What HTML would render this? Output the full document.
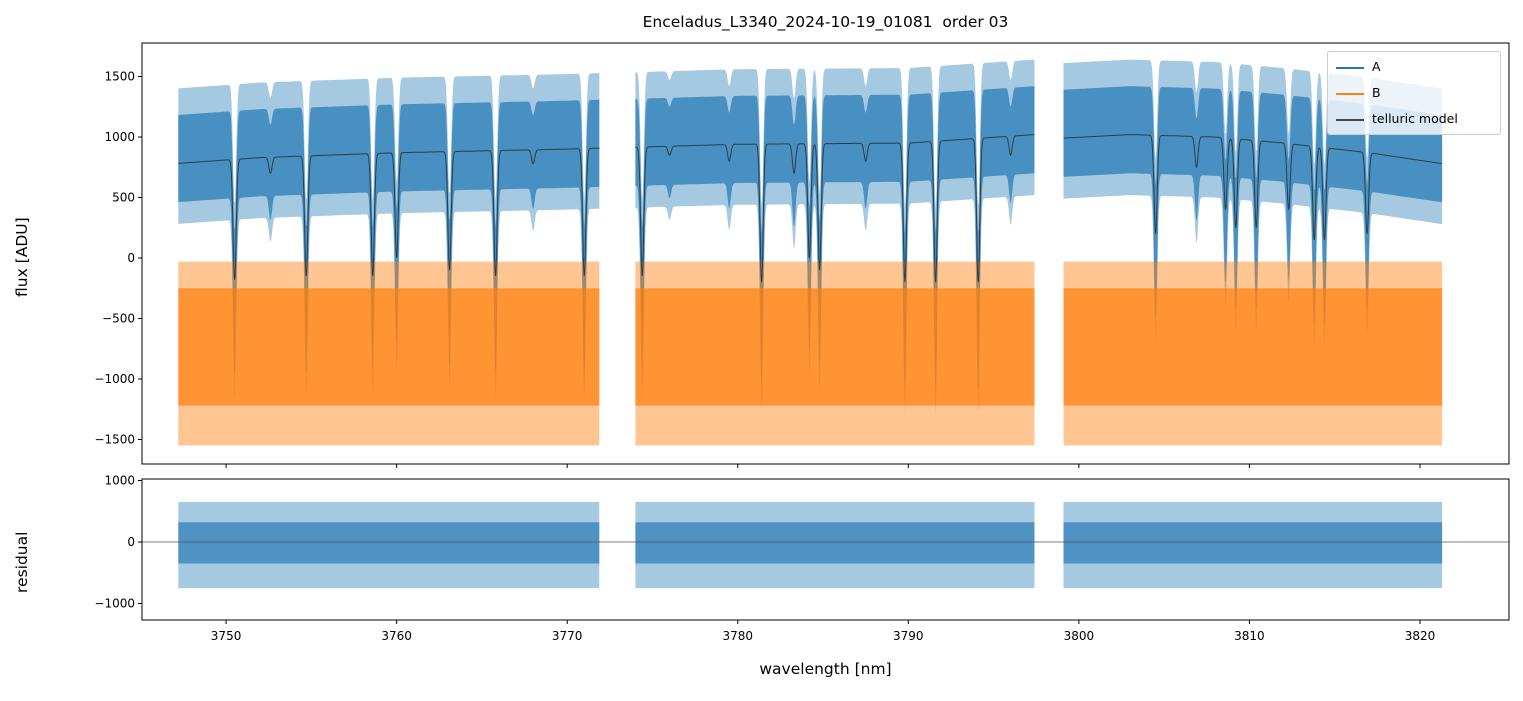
<!DOCTYPE html>
<html><head><meta charset="utf-8"><style>
body{margin:0;background:#fff;font-family:"Liberation Sans","DejaVu Sans",sans-serif}
svg text{font-family:"DejaVu Sans","Liberation Sans",sans-serif}
</style></head><body>
<svg id="c" width="1523" height="696" xmlns="http://www.w3.org/2000/svg"></svg>
<script>
// ---- data ----
const segments = [[3747.2,3771.9],[3774.0,3797.4],[3799.1,3821.3]];
const contX = [3747,3752,3760,3770,3780,3790,3797.4,3799,3803,3808,3812,3817,3821.3];
const contY = [780,830,870,900,940,950,1020,990,1020,1000,950,870,780];
const lineCenters = [3750.5,3752.6,3754.7,3758.6,3760.0,3763.1,3765.8,3768.0,3771.0,3774.4,3776.0,3779.5,3781.4,3783.3,3784.2,3784.8,3787.5,3789.8,3791.6,3794.1,3796.0,3804.5,3806.9,3808.6,3809.2,3810.4,3812.3,3813.8,3814.4,3816.9];
const lineDepths  = [-180,700,-150,-150,0,-100,-150,780,-150,-150,850,800,-200,700,0,-100,800,-200,-200,-200,850,200,750,400,250,250,400,150,150,200];
const yTicks = [1500,1000,500,0,-500,-1000,-1500];
const rTicks = [1000,0,-1000];
const xTicks = [3750,3760,3770,3780,3790,3800,3810,3820];
const aOuter = [620,-500]; const aInner = [400,-320];
const bOuter = [-30,-1550]; const bInner = [-250,-1220];
const rOuter = [650,-750]; const rInner = [320,-350];

// ---- scales ----
const X0=142,X1=1509,xmin=3745.07,xmax=3825.22;
const sx=v=>X0+(v-xmin)/(xmax-xmin)*(X1-X0);
const sy=v=>258-v*0.121;
const sr=v=>542-v*0.0615;
const svg=document.getElementById('c');const NS='http://www.w3.org/2000/svg';
function el(t,a,p){const e=document.createElementNS(NS,t);for(const k in a)e.setAttribute(k,a[k]);(p||svg).appendChild(e);return e;}
function cont(x){for(let i=0;i<contX.length-1;i++){if(x<=contX[i+1]){const t=(x-contX[i])/(contX[i+1]-contX[i]);return contY[i]+t*(contY[i+1]-contY[i]);}}return contY[contY.length-1];}
function model(x){let c=cont(x),f=1;for(let i=0;i<lineCenters.length;i++){const d=(x-lineCenters[i])/0.13;const depth=1-lineDepths[i]/c;f*=1-depth*Math.exp(-d*d);}return c*f;}

const defs=el('defs',{});
const cp=el('clipPath',{id:'cp1'},defs);el('rect',{x:X0,y:43,width:X1-X0,height:421},cp);
const cp2=el('clipPath',{id:'cp2'},defs);el('rect',{x:X0,y:479,width:X1-X0,height:141},cp2);
const g1=el('g',{'clip-path':'url(#cp1)'});
const g2=el('g',{'clip-path':'url(#cp2)'});

function band(g,fn,lo,hi,sc,color,op,name){
  segments.forEach(s=>{
    const up=[],dn=[];
    for(let x=s[0];x<=s[1]+1e-9;x+=0.04){const m=fn(x);up.push(sx(x).toFixed(1)+','+sc(m+hi).toFixed(1));dn.push(sx(x).toFixed(1)+','+sc(m+lo+(fn===model?Math.min(0,m-cont(x))*0.5:0)).toFixed(1));}
    const p=el('polygon',{points:up.concat(dn.reverse()).join(' '),fill:color,'fill-opacity':op},g);
    
    
  });
}
const zero=()=>0;
band(g1,model,aOuter[1],aOuter[0],sy,'#1f77b4',0.4,'series-a-band');
band(g1,model,aInner[1],aInner[0],sy,'#1f77b4',0.7,'series-a-band');
band(g1,zero,bOuter[1],bOuter[0],sy,'#ff7f0e',0.45,'series-b-band');
band(g1,zero,bInner[1],bInner[0],sy,'#ff7f0e',0.7,'series-b-band');
segments.forEach(s=>{let pts=[];for(let x=s[0];x<=s[1]+1e-9;x+=0.02)pts.push(sx(x).toFixed(1)+','+sy(model(x)).toFixed(1));
  const l=el('polyline',{points:pts.join(' '),fill:'none',stroke:'#2b2f33',
  'stroke-width':1,'stroke-opacity':0.85},g1);
  
  });
band(g2,zero,rOuter[1],rOuter[0],sr,'#1f77b4',0.4,'residual-band');
band(g2,zero,rInner[1],rInner[0],sr,'#1f77b4',0.65,'residual-band');
el('line',{x1:X0,x2:X1,y1:sr(0),y2:sr(0),stroke:'#555','stroke-width':0.7},g2);

el('rect',{x:X0,y:43,width:X1-X0,height:421,fill:'none',stroke:'#000','stroke-width':1,});
el('rect',{x:X0,y:479,width:X1-X0,height:141,fill:'none',stroke:'#000','stroke-width':1,});
yTicks.forEach(v=>{const y=sy(v);el('line',{x1:X0-4,x2:X0,y1:y,y2:y,stroke:'#000'});
  const t=el('text',{x:X0-7,y:y+4,'text-anchor':'end','font-size':12});t.textContent=v<0?'−'+(-v):v;
  });
rTicks.forEach(v=>{const y=sr(v);el('line',{x1:X0-4,x2:X0,y1:y,y2:y,stroke:'#000'});
  const t=el('text',{x:X0-7,y:y+4,'text-anchor':'end','font-size':12});t.textContent=v<0?'−'+(-v):v;
  });
xTicks.forEach(v=>{const x=sx(v);el('line',{x1:x,x2:x,y1:464,y2:468,stroke:'#000'});el('line',{x1:x,x2:x,y1:620,y2:624,stroke:'#000'});
  const t=el('text',{x:x,y:640,'text-anchor':'middle','font-size':12});t.textContent=v;
  });
</script>
<div style="position:absolute;left:0;top:0;width:1523px;height:696px;pointer-events:none">
<div style="position:absolute;left:142px;width:1367px;top:13px;text-align:center;font:15.5px 'DejaVu Sans',sans-serif">Enceladus_L3340_2024-10-19_01081&nbsp; order 03</div>
<div style="position:absolute;left:13px;top:297px;transform:rotate(-90deg);transform-origin:0 0;font:15.5px 'DejaVu Sans',sans-serif;white-space:nowrap;">flux [ADU]</div>
<div style="position:absolute;left:13px;top:593px;transform:rotate(-90deg);transform-origin:0 0;font:15.5px 'DejaVu Sans',sans-serif;white-space:nowrap;">residual</div>
<div style="position:absolute;left:142px;width:1367px;top:660px;text-align:center;font:15.5px 'DejaVu Sans',sans-serif">wavelength [nm]</div>
<div style="position:absolute;left:1327px;top:51px;width:172px;height:82px;background:rgba(255,255,255,0.8);border:1px solid #ccc;border-radius:3px;font:12.5px 'DejaVu Sans',sans-serif">
 <div style="position:absolute;left:8px;top:7px"><span style="display:inline-block;width:28px;height:2px;background:#1f77b4;vertical-align:middle;margin-right:8px"></span>A</div>
 <div style="position:absolute;left:8px;top:33px"><span style="display:inline-block;width:28px;height:2px;background:#ff7f0e;vertical-align:middle;margin-right:8px"></span>B</div>
 <div style="position:absolute;left:8px;top:59px"><span style="display:inline-block;width:28px;height:2px;background:#444;vertical-align:middle;margin-right:8px"></span>telluric model</div>
</div>
</div>
</body></html>
